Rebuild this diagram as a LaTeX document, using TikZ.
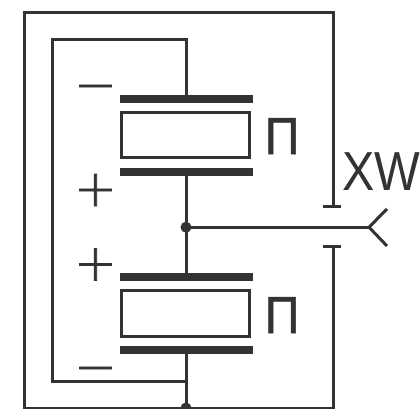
\documentclass[tikz,border=0pt]{standalone}
\usepackage{fontspec}
\setmainfont{Liberation Sans}
\newfontfamily\signfont[FakeBold=1.2]{DejaVu Sans ExtraLight}
\newfontfamily\pifont[FakeBold=1]{Liberation Sans}
\definecolor{ink}{HTML}{333333}
\tikzset{
  wire/.style={draw=ink,line width=3pt,line cap=butt,line join=miter},
  plate/.style={fill=ink,draw=none,minimum width=132.5pt,minimum height=8pt,inner sep=0pt,outer sep=0pt},
  crystal/.style={draw=ink,line width=3pt,fill=white,minimum width=127.5pt,minimum height=45.5pt,inner sep=0pt},
  sign/.style={text=ink,font=\signfont\fontsize{51}{51}\selectfont,inner sep=0pt,anchor=base},
  lab/.style={text=ink,inner sep=0pt,anchor=base}
}
\begin{document}
\begin{tikzpicture}[x=1pt,y=-1pt]
\useasboundingbox (0,0) rectangle (420,409);
\clip (0,0) rectangle (420,409);
% plates and crystals
\node[plate] (p1) at (186.3,98.8) {};
\node[crystal] (c1) at (185.3,135) {};
\node[plate] (p2) at (186.3,171.7) {};
\node[plate] (p3) at (186.3,277) {};
\node[crystal] (c2) at (185.3,313.3) {};
\node[plate] (p4) at (186.3,350) {};
% named points
\coordinate (j) at (186,227.2);
\coordinate (b) at (186,408);
\coordinate (il) at (186,381.5);
\coordinate (fork) at (369,227.2);
\coordinate (f1) at (387,209);
\coordinate (f2) at (387,246);
\coordinate (tu) at (333.3,206.3);
\coordinate (tl) at (333.3,246.7);
\coordinate (tul) at (322.7,206.3);
\coordinate (tur) at (341.2,206.3);
\coordinate (tll) at (322.7,246.7);
\coordinate (tlr) at (341.2,246.7);
% outer loop
\draw[wire] (tu) -- (333.3,12.7) -- (24.3,12.7) -- (24.3,408) -- (b) -- (333.3,408) -- (tl);
% inner loop
\draw[wire] (186,98) -- (186,40) -- (52.7,40) -- (52.7,381.5) -- (il);
% centre lines
\draw[wire] (186,172) -- (j) -- (186,277);
\draw[wire] (186,350) -- (b);
\draw[wire] (j) -- (fork);
\draw[wire] (f1) -- (fork) -- (f2);
\draw[wire] (tul) -- (tur);
\draw[wire] (tll) -- (tlr);
\fill[ink] (j) circle (5.5pt);
\fill[ink] (b) circle (5.5pt);
% labels
\node[sign] (m1) at (95.5,102) {−};
\node[sign] (pl1) at (95.5,206) {+};
\node[sign] (pl2) at (95.5,280.5) {+};
\node[sign] (m2) at (95.5,384) {−};
\node[lab,xscale=.93,font=\pifont\fontsize{52}{52}\selectfont] (pi1) at (282,154) {П};
\node[lab,xscale=.93,font=\pifont\fontsize{52}{52}\selectfont] (pi2) at (282,333) {П};
\node[lab,xscale=.88,font=\fontsize{55}{55}\selectfont] (xw) at (381,190) {XW};
\end{tikzpicture}
\end{document}
